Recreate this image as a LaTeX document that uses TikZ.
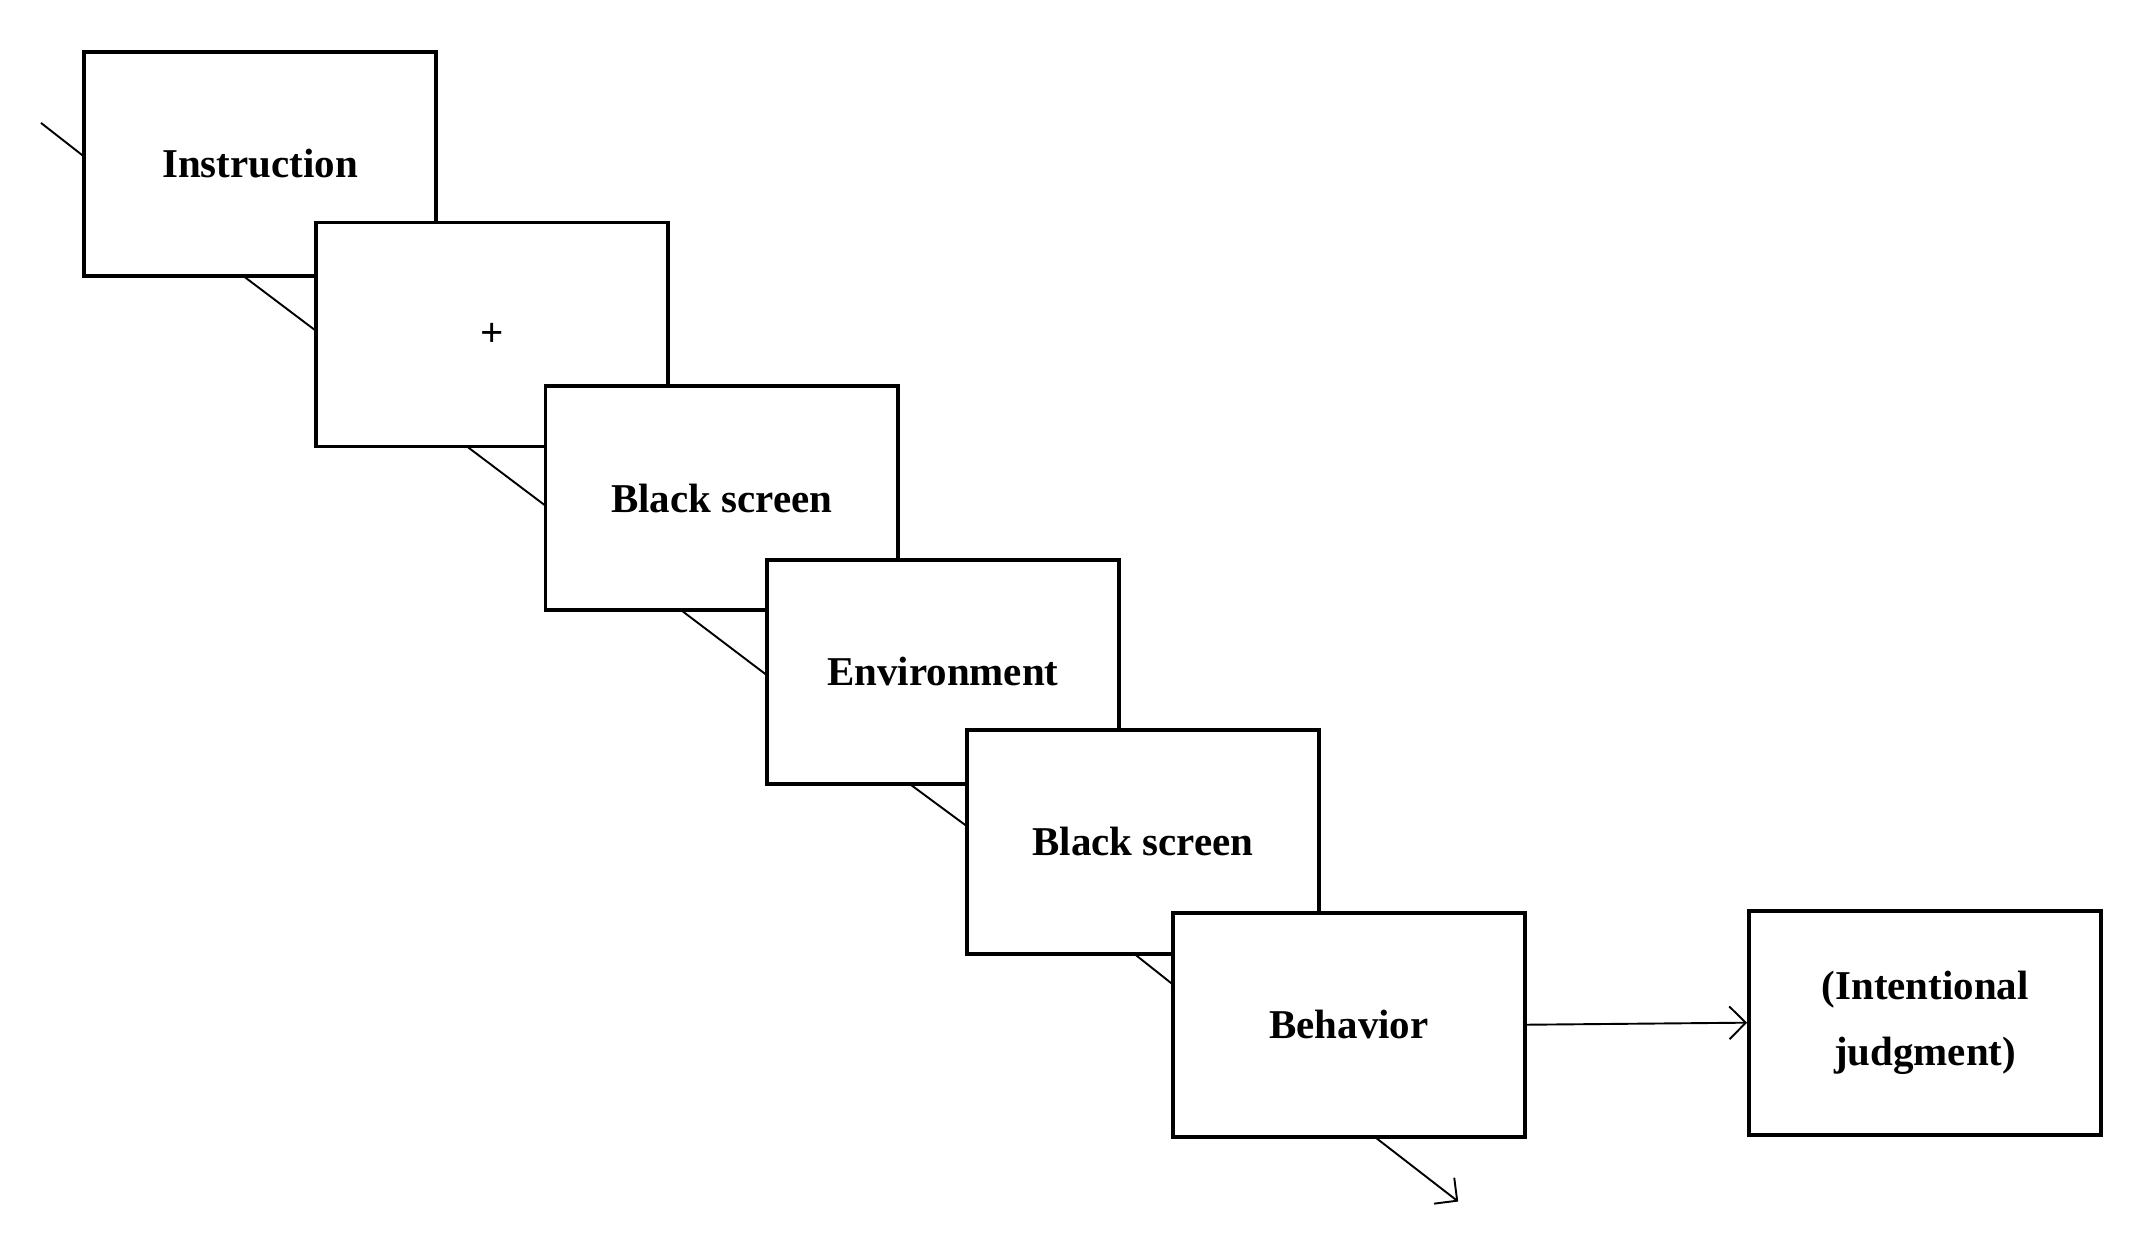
\documentclass[tikz,border=0pt]{standalone}
\usepackage{fontspec}
\setmainfont{Liberation Serif}
\usetikzlibrary{arrows.meta}
\begin{document}
\begin{tikzpicture}[x=0.5pt,y=-0.5pt,
  box/.style={draw,line width=1.4pt,fill=white,minimum width=129pt,minimum height=82pt,inner sep=0pt,font=\fontsize{15}{24}\selectfont\bfseries,align=center},
  tl/.style={line width=0.7pt},
  arr/.style={line width=0.7pt,-{Straight Barb[length=6pt,width=12pt]}}]
\useasboundingbox (0,0) rectangle (1560,916);
\coordinate (s0) at (30,90);
\coordinate (s1) at (178,202);
\coordinate (s2) at (342,327);
\coordinate (s3) at (499,447);
\coordinate (s4) at (666,574);
\coordinate (s5) at (830,698);
\coordinate (s6) at (1006,832);
\coordinate (e6) at (1068,880);
\draw[tl] (s0) -- (62,115);
\node[box] (a) at (190.5,120) {Instruction};
\draw[tl] (s1) -- (231,242);
\node[box] (b) at (360.5,245) {+};
\draw[tl] (s2) -- (399,370);
\node[box] (c) at (528.5,365) {Black screen};
\draw[tl] (s3) -- (561,494);
\node[box] (d) at (690.5,492) {Environment};
\draw[tl] (s4) -- (708,605);
\node[box] (e) at (837,616.5) {Black screen};
\draw[tl] (s5) -- (859,721);
\node[box] (f) at (988,750.5) {Behavior};
\node[box] (g) at (1410,749) {(Intentional\\judgment)};
\draw[arr] (f.east) -- (g.west);
\draw[arr] (s6) -- (e6);
\end{tikzpicture}
\end{document}
